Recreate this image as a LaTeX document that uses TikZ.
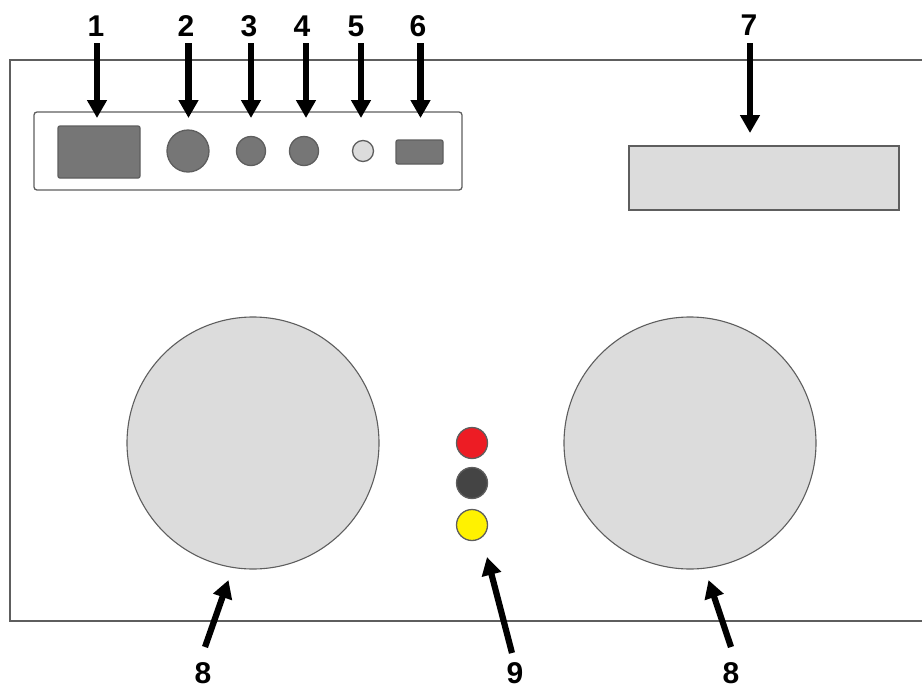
\documentclass[tikz,border=0pt]{standalone}
\usepackage{fontspec}
\setmainfont{Liberation Sans}
\usetikzlibrary{arrows.meta}
\definecolor{edgegray}{HTML}{5E5E5E}
\definecolor{darkfill}{HTML}{767676}
\definecolor{lightfill}{HTML}{DCDCDC}
\tikzset{
  x=1pt,y=-1pt,
  num/.style={font=\bfseries\fontsize{30}{30}\selectfont,inner sep=0pt,text=black,anchor=center},
  pointer/.style={line width=6.2pt,draw=black,-{Triangle[width=19pt,length=18pt,fill=black]}},
  part/.style={draw=edgegray,line width=1.3pt,inner sep=0pt,outer sep=0pt},
  dot/.style={part,circle,minimum size=#1},
  block/.style={part,rectangle,rounded corners=2pt,fill=darkfill},
}
\begin{document}
\begin{tikzpicture}
\useasboundingbox (0,0) rectangle (922,686);
% housing outline (open at the right edge)
\draw[draw=edgegray,line width=1.3pt] (922,60) -- (10,60) -- (10,621) -- (922,621);
% connector panel
\node[part,rounded corners=3pt,minimum width=428pt,minimum height=78pt,fill=white] (panel) at (248,151) {};
\node[block,minimum width=82pt,minimum height=52pt] (p1) at (99,152) {};
\node[dot=42pt,fill=darkfill] (p2) at (188,151) {};
\node[dot=29pt,fill=darkfill] (p3) at (251,151) {};
\node[dot=29pt,fill=darkfill] (p4) at (304,151) {};
\node[dot=21pt,fill=lightfill] (p5) at (363,151) {};
\node[block,minimum width=47pt,minimum height=24pt] (p6) at (419.5,152) {};
% display
\node[part,minimum width=270pt,minimum height=64pt,fill=lightfill] (p7) at (764,178) {};
% large circles
\node[dot=252pt,fill=lightfill,line width=1.1pt] (p8a) at (253,443) {};
\node[dot=252pt,fill=lightfill,line width=1.1pt] (p8b) at (690,443) {};
% lamps
\node[dot=31pt,fill={rgb,255:red,237;green,28;blue,36}] (r) at (472,443) {};
\node[dot=31pt,fill={rgb,255:red,68;green,68;blue,68}] (k) at (472,483) {};
\node[dot=31pt,fill={rgb,255:red,255;green,242;blue,0}] (y) at (472,525) {};
% labels
\node[num] (n1) at (96,26.5) {1};
\node[num] (n2) at (186,26.5) {2};
\node[num] (n3) at (249,26.5) {3};
\node[num] (n4) at (302,26.5) {4};
\node[num] (n5) at (356,26.5) {5};
\node[num] (n6) at (418,26.5) {6};
\node[num] (n7) at (749,25.5) {7};
\node[num] (n8a) at (203,673) {8};
\node[num] (n9) at (515,673) {9};
\node[num] (n8b) at (731,673) {8};
% pointer ends
\coordinate (a1) at (97,43); \coordinate (b1) at (97,118);
\coordinate (a2) at (188.5,43); \coordinate (b2) at (188.5,118);
\coordinate (a3) at (251,43); \coordinate (b3) at (251,118);
\coordinate (a4) at (306,43); \coordinate (b4) at (306,118);
\coordinate (a5) at (361,43); \coordinate (b5) at (361,118);
\coordinate (a6) at (420.5,43); \coordinate (b6) at (420.5,118);
\coordinate (a7) at (750,43); \coordinate (b7) at (750,133);
\coordinate (a8) at (205,647); \coordinate (b8) at (228.5,580);
\coordinate (a9) at (512,653); \coordinate (b9) at (487,557);
\coordinate (a10) at (731,647); \coordinate (b10) at (708.5,580);
\foreach \i in {1,...,10} \draw[pointer] (a\i) -- (b\i);
\end{tikzpicture}
\end{document}
